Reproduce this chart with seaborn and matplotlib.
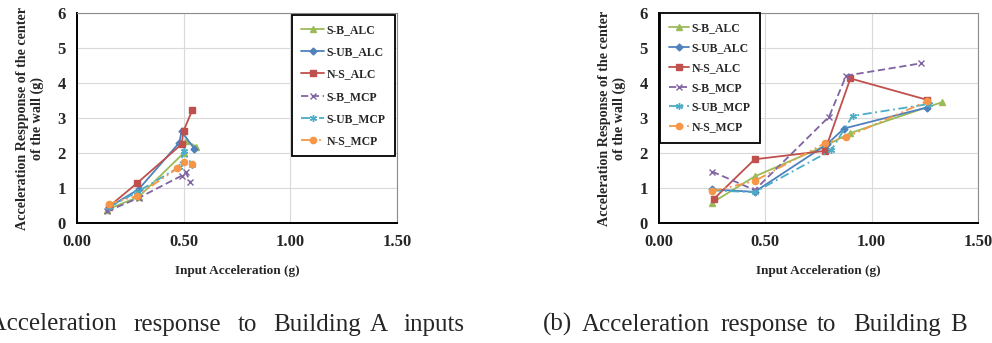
import matplotlib
matplotlib.use("Agg")
import matplotlib.pyplot as plt
import numpy as np
import pandas as pd
import seaborn as sns

# Series names and styling keys
series = ["S-B_ALC", "S-UB_ALC", "N-S_ALC", "S-B_MCP", "S-UB_MCP", "N-S_MCP"]

# Building A inputs: input acceleration (g) and wall-centre response (g)
a_x = {
    "S-B_ALC":  [0.14, 0.29, 0.50, 0.51, 0.56],
    "S-UB_ALC": [0.15, 0.29, 0.48, 0.49, 0.55],
    "N-S_ALC":  [0.15, 0.28, 0.49, 0.50, 0.54],
    "S-B_MCP":  [0.14, 0.29, 0.49, 0.51, 0.53],
    "S-UB_MCP": [0.15, 0.28, 0.48, 0.50, 0.54],
    "N-S_MCP":  [0.15, 0.28, 0.47, 0.50, 0.54],
}
a_y = {
    "S-B_ALC":  [0.38, 0.75, 2.00, 2.35, 2.18],
    "S-UB_ALC": [0.45, 0.97, 2.30, 2.62, 2.12],
    "N-S_ALC":  [0.47, 1.13, 2.25, 2.64, 3.22],
    "S-B_MCP":  [0.33, 0.72, 1.35, 1.45, 1.18],
    "S-UB_MCP": [0.45, 0.88, 1.60, 2.05, 1.66],
    "N-S_MCP":  [0.55, 0.77, 1.56, 1.74, 1.70],
}

# Building B inputs
b_x = {
    "S-B_ALC":  [0.25, 0.45, 0.78, 0.90, 1.33],
    "S-UB_ALC": [0.25, 0.45, 0.79, 0.87, 1.26],
    "N-S_ALC":  [0.26, 0.45, 0.78, 0.90, 1.26],
    "S-B_MCP":  [0.25, 0.45, 0.80, 0.88, 1.23],
    "S-UB_MCP": [0.25, 0.45, 0.81, 0.91, 1.27],
    "N-S_MCP":  [0.25, 0.45, 0.78, 0.88, 1.26],
}
b_y = {
    "S-B_ALC":  [0.58, 1.33, 2.20, 2.57, 3.45],
    "S-UB_ALC": [0.96, 0.89, 2.25, 2.70, 3.30],
    "N-S_ALC":  [0.70, 1.82, 2.06, 4.13, 3.52],
    "S-B_MCP":  [1.47, 0.94, 3.04, 4.21, 4.56],
    "S-UB_MCP": [0.93, 0.88, 2.08, 3.06, 3.40],
    "N-S_MCP":  [0.91, 1.20, 2.28, 2.45, 3.48],
}

x_ticks = [0.00, 0.50, 1.00, 1.50]
y_ticks = [0, 1, 2, 3, 4, 5, 6]

palette = {
    "S-B_ALC": "#9BBB59",
    "S-UB_ALC": "#4F81BD",
    "N-S_ALC": "#C0504D",
    "S-B_MCP": "#8064A2",
    "S-UB_MCP": "#4BACC6",
    "N-S_MCP": "#F79646",
}
markers = {
    "S-B_ALC": "^",
    "S-UB_ALC": "D",
    "N-S_ALC": "s",
    "S-B_MCP": "x",
    "S-UB_MCP": (6, 2, 0),
    "N-S_MCP": "o",
}
dashes = {
    "S-B_ALC": "",
    "S-UB_ALC": "",
    "N-S_ALC": "",
    "S-B_MCP": (4, 2),
    "S-UB_MCP": (5, 2, 1, 2),
    "N-S_MCP": (5, 2, 1, 2, 1, 2),
}
marker_sizes = {
    "S-B_ALC": 4.5, "S-UB_ALC": 3.5, "N-S_ALC": 5.0,
    "S-B_MCP": 4.5, "S-UB_MCP": 5.0, "N-S_MCP": 4.5,
}


def to_frame(xs, ys):
    rows = []
    for name in series:
        for xv, yv in zip(xs[name], ys[name]):
            rows.append({"series": name, "x": xv, "y": yv})
    return pd.DataFrame(rows)


sns.set_style("white")
plt.rcParams["font.family"] = ["Liberation Serif", "DejaVu Serif"]
plt.rcParams["font.weight"] = "bold"

W, H = 992, 343
fig = plt.figure(figsize=(W / 100, H / 100), dpi=100)


def panel(rect, xs, ys, ylabel, legend_anchor, labelspacing, handlelength):
    ax = fig.add_axes(rect)
    df = to_frame(xs, ys)
    sns.lineplot(
        data=df, x="x", y="y", hue="series", style="series",
        hue_order=series, style_order=series,
        palette=palette, markers=False, dashes=dashes,
        sort=False, estimator=None, legend=False, ax=ax, linewidth=1.3,
    )
    # point markers per series (mixed filled / line-art shapes)
    for line, name in zip(ax.lines, series):
        line.set_marker(markers[name])
        line.set_markeredgecolor(palette[name])
        line.set_markerfacecolor(palette[name])
        line.set_markersize(marker_sizes[name])
        line.set_markeredgewidth(1.0)

    ax.set_xlim(0, 1.5)
    ax.set_ylim(0, 6)
    ax.set_xticks(x_ticks)
    ax.set_xticklabels([f"{v:.2f}" for v in x_ticks])
    ax.set_yticks(y_ticks)
    ax.tick_params(axis="both", direction="out", length=4, width=1,
                   color="black", labelsize=12, pad=4)
    for lab in ax.get_xticklabels() + ax.get_yticklabels():
        lab.set_fontweight("bold")
    ax.grid(True, color="#d9d9d9", linewidth=0.8)
    ax.set_axisbelow(True)
    for side in ("left", "bottom"):
        ax.spines[side].set_color("black")
        ax.spines[side].set_linewidth(1.4)
    for side in ("top", "right"):
        ax.spines[side].set_color("#8c8c8c")
        ax.spines[side].set_linewidth(0.8)

    ax.set_xlabel("Input Acceleration (g)", fontsize=9.5, fontweight="bold",
                  labelpad=11)
    ax.set_ylabel(ylabel, fontsize=10.2, fontweight="bold", labelpad=10,
                  linespacing=1.15)

    leg = ax.legend(
        handles=ax.lines[:len(series)], labels=series,
        loc="upper left", bbox_to_anchor=legend_anchor, borderaxespad=0,
        frameon=True, fancybox=False, framealpha=1,
        handlelength=handlelength, handletextpad=0.2, borderpad=0.8,
        labelspacing=labelspacing, prop={"weight": "bold", "size": 8.5},
    )
    leg.get_frame().set_edgecolor("black")
    leg.get_frame().set_linewidth(1.3)
    return ax


left_rect = [77 / W, 1 - 223 / H, 320 / W, 210 / H]
right_rect = [659 / W, 1 - 223 / H, 319 / W, 210 / H]

panel(left_rect, a_x, a_y,
      "Acceleration Respponse of the center\nof the wall (g)",
      (0.672, 0.99), 0.85, 1.9)
panel(right_rect, b_x, b_y,
      "Acceleration Response of the center\nof the wall (g)",
      (0.003, 1.0), 0.66, 1.7)

# Figure captions beneath each panel
cap_y = 1 - 331 / H
cap_kw = dict(fontsize=18, fontweight="normal", va="baseline",
              family=["Liberation Serif"])
fig.text(117 / W, cap_y, "(a) Acceleration", ha="right", **cap_kw)
for word, px in [("response", 133), ("to", 238), ("Building", 273),
                 ("A", 370), ("inputs", 403)]:
    fig.text(px / W, cap_y, word, ha="left", **cap_kw)
for word, px in [("(b)", 543), ("Acceleration", 582), ("response", 720),
                 ("to", 817), ("Building", 853), ("B", 950)]:
    fig.text(px / W, cap_y, word, ha="left", **cap_kw)

fig.savefig("out.png", dpi=100)
